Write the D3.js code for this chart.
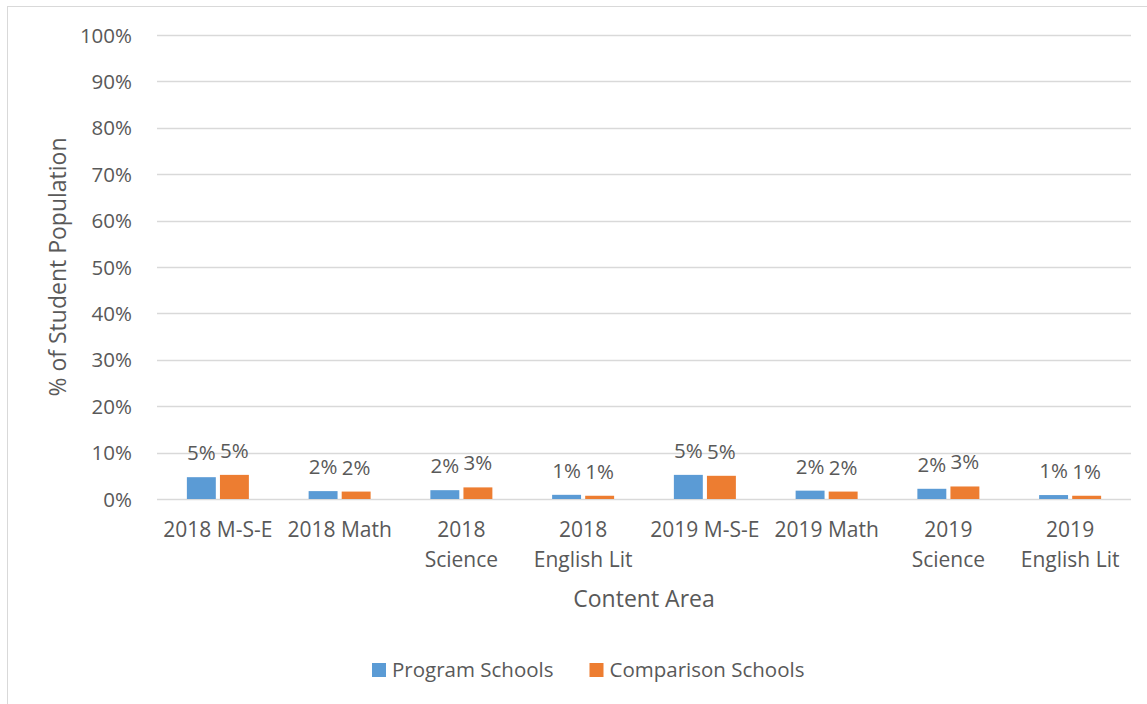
<!DOCTYPE html>
<html>
<head>
<meta charset="utf-8">
<script src="https://cdn.jsdelivr.net/npm/d3@7"></script>
<style>
  body { margin: 0; background: #fff; }
  svg text { font-family: "Open Sans", sans-serif; fill: #595959; }
</style>
</head>
<body>
<svg id="chart" width="1147" height="704"></svg>
<script>
// data
const categories = ["2018 M-S-E", "2018 Math", "2018 Science", "2018 English Lit",
                    "2019 M-S-E", "2019 Math", "2019 Science", "2019 English Lit"];
const tickLines = [["2018 M-S-E"], ["2018 Math"], ["2018", "Science"], ["2018", "English Lit"],
                   ["2019 M-S-E"], ["2019 Math"], ["2019", "Science"], ["2019", "English Lit"]];
const programSchools    = [0.047, 0.017, 0.019, 0.009, 0.052, 0.018, 0.022, 0.0085];
const comparisonSchools = [0.052, 0.016, 0.025, 0.007, 0.050, 0.016, 0.027, 0.007];
const seriesNames = ["Program Schools", "Comparison Schools"];
const yTicks = [0, 0.1, 0.2, 0.3, 0.4, 0.5, 0.6, 0.7, 0.8, 0.9, 1.0];

const colors = ["#5b9bd5", "#ed7d31"];
const series = [programSchools, comparisonSchools];

const svg = d3.select("#chart");
const margin = {top: 35, left: 157, right: 16, bottom: 205};
const width = 1147 - margin.left - margin.right;
const height = 704 - margin.top - margin.bottom;

// outer chart frame
svg.append("rect")
    .attr("x", 7.5).attr("y", 6.5)
    .attr("width", 1160).attr("height", 720)
    .attr("fill", "none").attr("stroke", "#d9d9d9");

const g = svg.append("g").attr("transform", `translate(${margin.left},${margin.top})`);

const x = d3.scaleBand().domain(categories).range([0, width]).paddingInner(0).paddingOuter(0);
const x1 = d3.scaleBand().domain([0, 1]).range([0, 62]).paddingInner(0.125);
const y = d3.scaleLinear().domain([0, 1]).range([height, 0]);

// gridlines
g.append("g").selectAll("line")
    .data(yTicks)
    .enter().append("line")
    .attr("x1", 0).attr("x2", width)
    .attr("y1", d => Math.round(y(d)) + 0.5).attr("y2", d => Math.round(y(d)) + 0.5)
    .attr("stroke", "#d9d9d9").attr("stroke-width", 1.3);

// y axis labels
const yAxis = g.append("g")
    .attr("transform", "translate(-22,0)")
    .call(d3.axisLeft(y).tickValues(yTicks).tickFormat(d3.format(".0%")).tickSize(0));
yAxis.select(".domain").remove();
yAxis.selectAll("text").style("font-size", "20.5px").attr("text-anchor", "end").attr("dx", 0).attr("dy", "0.35em");

// bars
series.forEach((vals, s) => {
    g.append("g").selectAll("rect")
        .data(vals)
        .enter().append("rect")
        .attr("x", (d, i) => x(categories[i]) + x.bandwidth() / 2 - 31 + x1(s))
        .attr("width", x1.bandwidth())
        .attr("y", d => y(d))
        .attr("height", d => y(0) - y(d))
        .attr("fill", colors[s]);

    g.append("g").selectAll("text")
        .data(vals)
        .enter().append("text")
        .attr("x", (d, i) => x(categories[i]) + x.bandwidth() / 2 - 31 + x1(s) + x1.bandwidth() / 2)
        .attr("y", d => y(d) - 17)
        .attr("text-anchor", "middle")
        .style("font-size", "20.5px")
        .text(d => d3.format(".0%")(d));
});

// x axis category labels
const xLab = g.append("g").selectAll("text")
    .data(categories)
    .enter().append("text")
    .attr("x", d => x(d) + x.bandwidth() / 2)
    .attr("y", height + 38)
    .attr("text-anchor", "middle")
    .style("font-size", "21px");
xLab.each(function(d, i) {
    const t = d3.select(this);
    tickLines[i].forEach((line, k) => {
        t.append("tspan")
            .attr("x", x(d) + x.bandwidth() / 2)
            .attr("dy", k === 0 ? 0 : 30)
            .text(line);
    });
});

// axis titles
svg.append("text")
    .attr("x", margin.left + width / 2)
    .attr("y", 607)
    .attr("text-anchor", "middle")
    .style("font-size", "23px")
    .text("Content Area");

svg.append("text")
    .attr("transform", `translate(66,${margin.top + height / 2}) rotate(-90)`)
    .attr("text-anchor", "middle")
    .style("font-size", "23px")
    .text("% of Student Population");

// legend
const legend = svg.append("g").attr("transform", "translate(372,663)");
let lx = 0;
seriesNames.forEach((name, s) => {
    const item = legend.append("g").attr("transform", `translate(${lx},0)`);
    item.append("rect").attr("width", 14).attr("height", 14).attr("fill", colors[s]);
    const txt = item.append("text")
        .attr("x", 20).attr("y", 7).attr("dy", "0.35em")
        .style("font-size", "20.5px")
        .text(name);
    lx += 20 + txt.node().getComputedTextLength() + 36;
});
</script>
</body>
</html>
